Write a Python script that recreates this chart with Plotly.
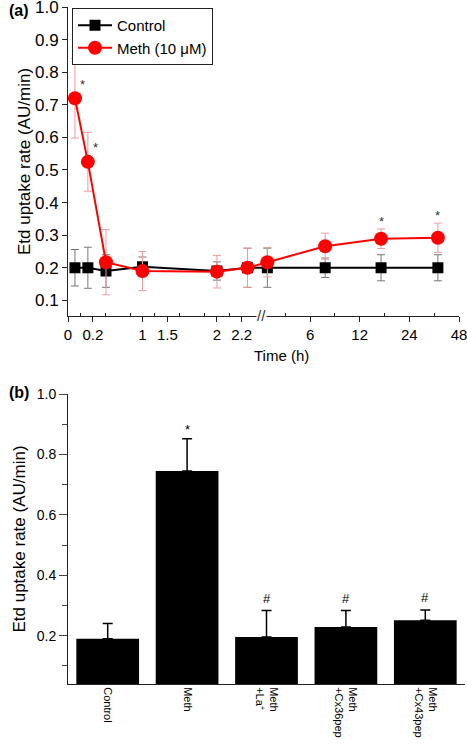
import plotly.graph_objects as go

# ---------------- Panel (a) data ----------------
# x positions along the broken time axis (axis units; one unit = one major tick on the left segment)
x_pos = [0.28, 0.80, 1.53, 3.0, 6.0, 7.23, 8.03, 10.36, 12.61, 14.9]
control = [0.200, 0.200, 0.190, 0.203, 0.190, 0.200, 0.200, 0.200, 0.200, 0.200]
control_err = [0.056, 0.063, 0.050, 0.030, 0.028, 0.060, 0.060, 0.030, 0.040, 0.040]
meth = [0.72, 0.525, 0.217, 0.190, 0.188, 0.200, 0.217, 0.266, 0.289, 0.292]
meth_err = [0.122, 0.090, 0.100, 0.060, 0.050, 0.060, 0.045, 0.040, 0.030, 0.045]
meth_sig = [True, True, False, False, False, False, False, False, True, True]

tick_vals_a = [0, 1, 3, 4, 6, 7, 9.75, 11.75, 13.75, 15.75]
tick_text_a = ["0", "0.2", "1", "1.5", "2", "2.2", "6", "12", "24", "48"]
unlabeled_major_a = [2, 5]
minor_vals_a = [0.5, 1.5, 2.5, 3.5, 4.5, 5.5, 6.5, 8.75, 10.75, 12.75, 14.75]
break_pos = 7.8

# ---------------- Panel (b) data ----------------
groups = ["Control", "Meth", "Meth<br>+La<sup>+</sup>", "Meth<br>+Cx36pep", "Meth<br>+Cx43pep"]
bar_vals = [0.190, 0.745, 0.196, 0.229, 0.251]
bar_errs = [0.050, 0.107, 0.087, 0.054, 0.034]
bar_marks = ["", "*", "#", "#", "#"]

FONT = "Liberation Sans, Arial, sans-serif"
W, H = 467, 745
L, R = 68, 2
PW = W - L - R


def px(xpix):
    return (xpix - L) / PW


def py(ypix):
    return 1 - ypix / H


fig = go.Figure()

fig.add_trace(go.Scatter(
    x=x_pos, y=control, name="Control", mode="lines+markers",
    line=dict(color="black", width=2),
    marker=dict(symbol="square", size=11, color="black"),
    error_y=dict(type="data", array=control_err, color="#777777", thickness=1, width=4),
    xaxis="x", yaxis="y",
))
fig.add_trace(go.Scatter(
    x=x_pos, y=meth, name="Meth (10 μM)", mode="lines+markers",
    line=dict(color="#ff0000", width=2),
    marker=dict(symbol="circle", size=14, color="#ff0000"),
    error_y=dict(type="data", array=meth_err, color="#f29a9a", thickness=1, width=4),
    xaxis="x", yaxis="y",
))

fig.add_trace(go.Bar(
    x=groups, y=bar_vals, marker=dict(color="black", line=dict(width=0)),
    width=0.79, showlegend=False,
    error_y=dict(type="data", array=bar_errs, arrayminus=[0] * len(bar_errs),
                 symmetric=False, color="black", thickness=1.5, width=5),
    xaxis="x2", yaxis="y2",
))

annotations = []
for i, s in enumerate(meth_sig):
    if not s:
        continue
    if i < 2:
        annotations.append(dict(x=x_pos[i], y=meth[i], xref="x", yref="y", text="*",
                                showarrow=False, xshift=8, yshift=14,
                                font=dict(family=FONT, size=13, color="#333")))
    else:
        annotations.append(dict(x=x_pos[i], y=meth[i] + meth_err[i], xref="x", yref="y",
                                text="*", showarrow=False, yanchor="bottom", yshift=-2,
                                font=dict(family=FONT, size=13, color="#333")))
for g, v, e, m in zip(groups, bar_vals, bar_errs, bar_marks):
    if m:
        annotations.append(dict(x=g, y=v + e, xref="x2", yref="y2", text=m,
                                showarrow=False, yanchor="bottom",
                                yshift=(0 if m == "*" else 3),
                                font=dict(family=FONT, size=13, color="black")))
# axis break mark
annotations.append(dict(x=break_pos, y=py(316), xref="x", yref="paper", text="//",
                        showarrow=False, yanchor="middle",
                        font=dict(family=FONT, size=15, color="#333"),
                        bgcolor="white", borderpad=0))
# x title of panel (a)
annotations.append(dict(x=px(281), y=py(355), xref="paper", yref="paper", text="Time (h)",
                        showarrow=False, xanchor="center", yanchor="middle",
                        font=dict(family=FONT, size=15, color="black")))
# panel labels
annotations.append(dict(x=px(7), y=py(11), xref="paper", yref="paper",
                        text="<b>(a)</b>", showarrow=False, xanchor="left", yanchor="middle",
                        font=dict(family=FONT, size=16, color="black")))
annotations.append(dict(x=px(7), y=py(393), xref="paper", yref="paper",
                        text="<b>(b)</b>", showarrow=False, xanchor="left", yanchor="middle",
                        font=dict(family=FONT, size=16, color="black")))

axis_common = dict(showline=True, linecolor="#222", linewidth=1, showgrid=False,
                   zeroline=False, color="black", automargin=False,
                   ticklabeloverflow="allow")

x_dom_a = [0, (459 - L) / PW]
x_range_a = [0, 15.75]

fig.update_layout(
    width=W, height=H,
    margin=dict(l=L, r=R, t=0, b=0),
    paper_bgcolor="white", plot_bgcolor="white",
    font=dict(family=FONT, color="black"),
    showlegend=True,
    legend=dict(x=px(72), y=py(8), xanchor="left", yanchor="top",
                bgcolor="white", bordercolor="#222", borderwidth=1,
                font=dict(family=FONT, size=15), tracegroupgap=0,
                itemwidth=34),
    xaxis=dict(**axis_common, domain=x_dom_a, range=x_range_a,
               anchor="y", tickmode="array", tickvals=tick_vals_a, ticktext=tick_text_a,
               ticks="outside", ticklen=5, tickwidth=1, tickcolor="#222",
               tickfont=dict(family=FONT, size=15),
               minor=dict(tickmode="array", tickvals=minor_vals_a, ticks="inside",
                          ticklen=3, tickcolor="#222")),
    xaxis3=dict(domain=x_dom_a, range=x_range_a, overlaying="x", anchor="y",
                showline=False, showgrid=False, zeroline=False, automargin=False,
                tickmode="array", tickvals=unlabeled_major_a, showticklabels=False,
                ticks="outside", ticklen=5, tickwidth=1, tickcolor="#222"),
    yaxis=dict(**axis_common, domain=[py(316), py(7)], range=[0.052, 1.0],
               anchor="x", tickmode="array",
               tickvals=[0.1, 0.2, 0.3, 0.4, 0.5, 0.6, 0.7, 0.8, 0.9, 1.0],
               tickformat=".1f", ticks="outside", ticklen=5, tickcolor="#222",
               tickfont=dict(family=FONT, size=17),
               title=dict(text="Etd uptake rate (AU/min)", font=dict(family=FONT, size=17),
                          standoff=0)),
    xaxis2=dict(**axis_common, domain=[0, 1], anchor="y2", range=[-0.5, 4.5],
                ticks="", tickangle=90, tickfont=dict(family=FONT, size=11)),
    yaxis2=dict(**axis_common, domain=[py(684), py(394)], range=[0.04, 1.0],
                anchor="x2", tickmode="array", tickvals=[0.2, 0.4, 0.6, 0.8, 1.0],
                tickformat=".1f", ticks="outside", ticklen=8, tickcolor="#444",
                tickfont=dict(family=FONT, size=14),
                minor=dict(tickmode="array", tickvals=[0.1, 0.3, 0.5, 0.7, 0.9],
                           ticks="outside", ticklen=5, tickcolor="#444"),
                title=dict(text="Etd uptake rate (AU/min)", font=dict(family=FONT, size=17),
                           standoff=6)),
    annotations=annotations,
)

fig.write_html("out.html", config={"displayModeBar": False},
               post_script="document.body.style.margin='0';")
